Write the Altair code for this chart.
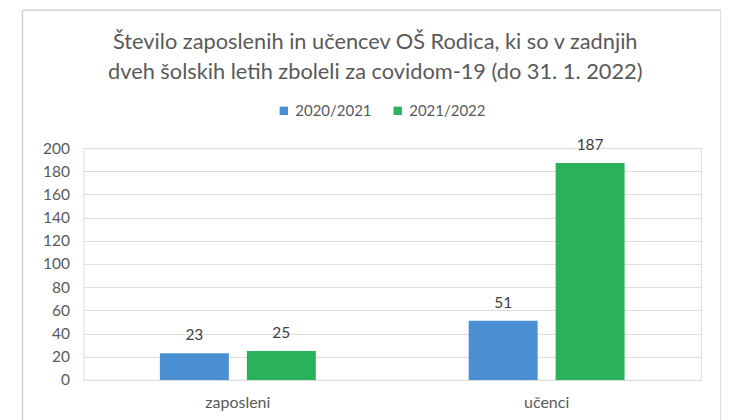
import altair as alt
import pandas as pd

categories = ["zaposleni", "zaposleni", "učenci", "učenci"]
years = ["2020/2021", "2021/2022", "2020/2021", "2021/2022"]
values = [23, 25, 51, 187]
cat_order = ["zaposleni", "učenci"]
year_order = ["2020/2021", "2021/2022"]
colors = ["#4a8fd1", "#2ab15b"]
y_ticks = [0, 20, 40, 60, 80, 100, 120, 140, 160, 180, 200]

df = pd.DataFrame({"kat": categories, "leto": years, "vrednost": values})

FONT = "Lato"
GREY = "#595959"

x_enc = alt.X("kat:N", sort=cat_order, title=None,
              scale=alt.Scale(paddingInner=0, paddingOuter=0),
              axis=alt.Axis(labelAngle=0, ticks=False, domain=False, labelPadding=15,
                            labelFont=FONT, labelFontSize=16, labelColor=GREY))
xo_enc = alt.XOffset("leto:N", sort=year_order,
                     scale=alt.Scale(paddingInner=0.207, paddingOuter=0.879))
y_enc = alt.Y("vrednost:Q", title=None,
              scale=alt.Scale(domain=[0, 200], nice=False),
              axis=alt.Axis(values=y_ticks, ticks=False, domain=False, labelPadding=14,
                            labelOverlap=False,
                            grid=True, gridColor="#dcdcdc", gridWidth=1,
                            labelFont=FONT, labelFontSize=15.5, labelColor=GREY))

base = alt.Chart(df)

bars = base.mark_bar().encode(
    x=x_enc, xOffset=xo_enc, y=y_enc,
    color=alt.Color("leto:N", sort=year_order,
                    scale=alt.Scale(domain=year_order, range=colors),
                    legend=alt.Legend(title=None, orient="none", direction="horizontal",
                                      legendX=193, legendY=-45, symbolType="square",
                                      symbolSize=70, symbolStrokeWidth=0,
                                      labelFont=FONT, labelFontSize=15, labelColor=GREY,
                                      columnPadding=18, labelOffset=4)),
)

labels = base.mark_text(dy=-10, font=FONT, fontSize=15.5, color="#404040",
                        baseline="bottom").encode(
    x=x_enc, xOffset=xo_enc, y=y_enc,
    text=alt.Text("vrednost:Q"),
)

frame = alt.Chart(pd.DataFrame({"a": [0]})).mark_rect(
    fill=None, stroke="#d4d4d4", strokeWidth=1.5).encode(
    x=alt.value(-61), x2=alt.value(638), y=alt.value(-138), y2=alt.value(300))

chart = alt.layer(frame, bars, labels).properties(
    width=618, height=232,
    padding={"left": 75.5, "top": 140, "right": 20, "bottom": 40},
    autosize=alt.AutoSizeParams(type="none"),
    title=alt.TitleParams(
        text=["Število zaposlenih in učencev OŠ Rodica, ki so v zadnjih",
              "dveh šolskih letih zboleli za covidom-19 (do 31. 1. 2022)"],
        font=FONT, fontSize=21.8, fontWeight="normal", color=GREY,
        anchor="middle", dx=-17, dy=74, lineHeight=30, offset=0),
).configure_view(stroke=None).configure(background="white")

chart.save("out.html", embed_options={"renderer": "svg", "actions": False})
